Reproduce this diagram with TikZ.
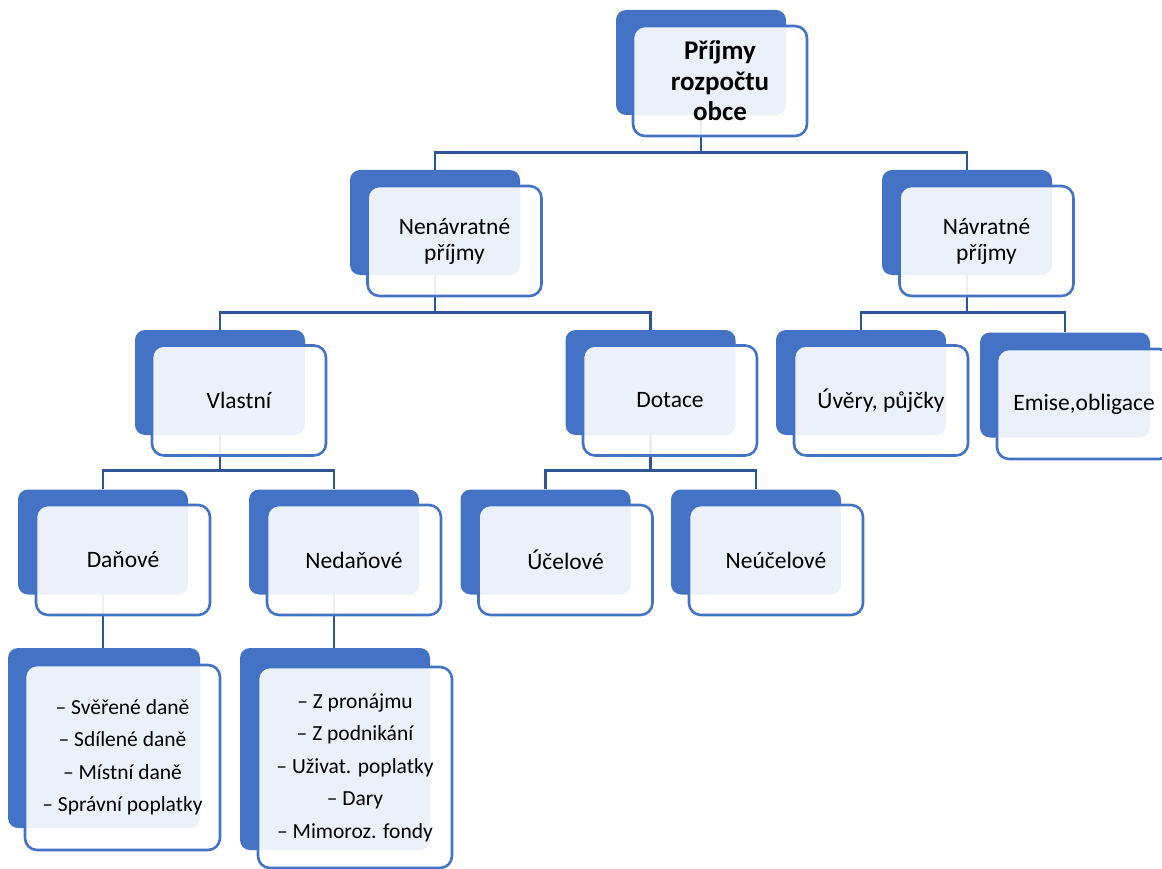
\documentclass[tikz,border=0pt]{standalone}
\usepackage{fontspec}
\setmainfont{Carlito}
\usetikzlibrary{backgrounds}
\definecolor{accent}{RGB}{68,114,196}
\definecolor{linkblue}{RGB}{47,85,151}
\tikzset{
  back/.style={fill=accent, rounded corners=10pt, inner sep=0pt,
    minimum width=170pt, minimum height=105pt},
  front/.style={draw=accent, line width=2.6pt, fill=white, fill opacity=0.9,
    text opacity=1, rounded corners=12pt, inner sep=0pt, align=center,
    minimum width=174pt, minimum height=110pt,
    font=\fontsize{23.5}{26}\selectfont},
  listfont/.style={font=\fontsize{21.5}{32.5}\selectfont},
  link/.style={draw=linkblue, line width=2.8pt},
}
\begin{document}
\begin{tikzpicture}[x=1pt, y=-1pt]
  \clip (0,0) rectangle (1162,869);
  % top
  \node[back] (prijmyB) at (701,62.5) {};
  \node[front, font=\bfseries\fontsize{27}{30.5}\selectfont] (prijmy) at (720,81) {Příjmy\\rozpočtu\\obce};
  % level 1
  \node[back] (nenavB) at (435,222.5) {};
  \node[front] (nenav) at (454.5,241) {Nenávratné\\příjmy};
  \node[back] (navB) at (967,222.5) {};
  \node[front] (nav) at (986.5,241) {Návratné\\příjmy};
  % level 2
  \node[back] (vlastniB) at (220,382.5) {};
  \node[front] (vlastni) at (239,400.5) {Vlastní};
  \node[back] (dotaceB) at (650.5,382.5) {};
  \node[front] (dotace) at (670,400.5) {Dotace};
  \node[back] (uveryB) at (861,382.5) {};
  \node[front] (uvery) at (881,400.5) {Úvěry, půjčky};
  \node[back] (emiseB) at (1065,385) {};
  \node[front] (emise) at (1084,404) {Emise,obligace};
  % level 3
  \node[back] (danoveB) at (103,542) {};
  \node[front] (danove) at (123,560) {Daňové};
  \node[back] (nedanoveB) at (334,542) {};
  \node[front] (nedanove) at (354,560) {Nedaňové};
  \node[back] (uceloveB) at (545.5,542) {};
  \node[front] (ucelove) at (565.5,560) {Účelové};
  \node[back] (neuceloveB) at (756,542) {};
  \node[front] (neucelove) at (776,560) {Neúčelové};
  % lists
  \node[back, minimum width=192pt, minimum height=180pt] (danlistB) at (104,738) {};
  \node[front, listfont, minimum width=195pt, minimum height=185pt] (danlist) at (122.5,757.5)
    {– Svěřené daně\\– Sdílené daně\\– Místní daně\\– Správní poplatky};
  \node[back, minimum width=190pt, minimum height=202pt] (nedlistB) at (335,749) {};
  \node[front, listfont, minimum width=194pt, minimum height=201pt] (nedlist) at (355,767.5)
    {– Z pronájmu\\– Z podnikání\\– Uživat. poplatky\\– Dary\\– Mimoroz. fondy};
  % connectors
  \begin{scope}[on background layer]
    \draw[link] (prijmyB.south) -- ++(0,37) coordinate (bus0) -| (nenavB.north);
    \draw[link] (bus0) -| (navB.north);
    \draw[link] (nenavB.south) -- ++(0,37) coordinate (bus1) -| (vlastniB.north);
    \draw[link] (bus1) -| (dotaceB.north);
    \draw[link] (navB.south) -- ++(0,37) coordinate (bus2) -| (uveryB.north);
    \draw[link] (bus2) -| (emiseB.north);
    \draw[link] (vlastniB.south) -- ++(0,35) coordinate (bus3) -| (danoveB.north);
    \draw[link] (bus3) -| (nedanoveB.north);
    \draw[link] (dotaceB.south) -- ++(0,35) coordinate (bus4) -| (uceloveB.north);
    \draw[link] (bus4) -| (neuceloveB.north);
    \draw[link] (danoveB.south) -- (danoveB.south |- danlistB.north);
    \draw[link] (nedanoveB.south) -- (nedanoveB.south |- nedlistB.north);
  \end{scope}
\end{tikzpicture}
\end{document}
